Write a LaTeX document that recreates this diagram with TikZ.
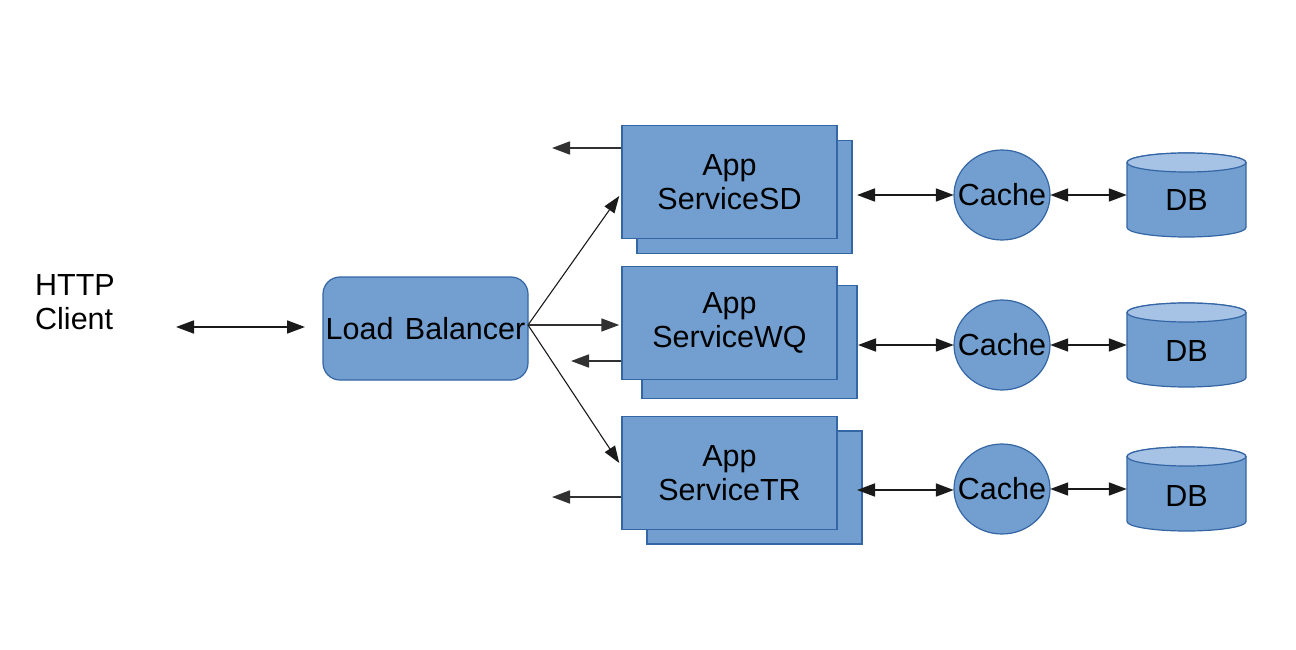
\documentclass[tikz,border=0pt]{standalone}
\usepackage{fontspec}
\setmainfont{Liberation Sans}
\usetikzlibrary{arrows.meta,shapes.geometric,calc}
\definecolor{boxfill}{HTML}{729FCF}
\definecolor{boxline}{HTML}{3465A4}
\definecolor{dbtop}{HTML}{A6C2E5}
\definecolor{lnk}{HTML}{1A1A1A}
\begin{document}
\begin{tikzpicture}[x=1pt,y=1pt,
  lbl/.style={font=\fontsize{30.5}{34}\selectfont, text=black},
  svcback/.style={draw=boxline, fill=boxfill, line width=1.5pt,
    minimum width=215pt, minimum height=113pt, inner sep=0pt},
  svcfront/.style={svcback, align=center, lbl},
  lbbox/.style={draw=boxline, fill=boxfill, line width=1.2pt, rounded corners=17pt,
    minimum width=205pt, minimum height=103pt, inner sep=0pt, lbl},
  cachenode/.style={minimum width=96pt, minimum height=90pt, inner sep=0pt, lbl},
  cacheshape/.style={draw=boxline, fill=boxfill, line width=1.2pt},
  dbtext/.style={minimum width=119pt, inner sep=0pt, lbl},
  twoway/.style={line width=1.7pt, draw=lnk, {Triangle[length=18pt,width=13pt]}-{Triangle[length=18pt,width=13pt]}},
  oneway/.style={line width=1.7pt, draw=lnk!90, -{Triangle[length=18pt,width=13pt]}},
  diagway/.style={line width=1.1pt, draw=lnk, -{Triangle[length=17pt,width=12pt]}}
]
\useasboundingbox (0,0) rectangle (1296,-650);

% HTTP client
\node[lbl, align=left, anchor=west, inner sep=0pt] (http) at (35,-302) {HTTP\\Client};
\coordinate (ca) at (176,-327);
\coordinate (cb) at (305,-327);
\draw[twoway] (ca) -- (cb);

% Load balancer
\node[lbbox] (lb) at (425.5,-328.5) {Load\hspace{3pt} Balancer};
\coordinate (lbo) at (528,-325);

% App services
\node[svcback] (sdb) at (744.5,-197) {};
\node[svcfront] (sd) at (729.5,-182) {App\\ServiceSD};
\node[svcback] (wqb) at (749.5,-342) {};
\node[svcfront] (wq) at (729.5,-323) {App\\ServiceWQ};
\node[svcback] (trb) at (754.5,-487.5) {};
\node[svcfront] (tr) at (729.5,-473) {App\\ServiceTR};

% LB to services
\draw[diagway] (lbo) -- ([yshift=-14pt,xshift=-2pt]sd.west);
\draw[oneway] (lbo) -- ([xshift=-2pt]lbo -| wq.west);
\draw[diagway] (lbo) -- ([yshift=10pt,xshift=-2pt]tr.west);

% left outgoing arrows
\coordinate (l1) at (552,-148);
\coordinate (l2) at (571,-361);
\coordinate (l3) at (552,-497);
\draw[oneway] (sd.west |- l1) -- (l1);
\draw[oneway] (wq.west |- l2) -- (l2);
\draw[oneway] (tr.west |- l3) -- (l3);

% DB cylinders
\foreach \cy in {195,345,489}{
  \filldraw[fill=boxfill, draw=boxline, line width=1.2pt]
    (1127,-\cy+32.5) -- (1127,-\cy-32.5)
    arc[start angle=180, end angle=360, x radius=59.5, y radius=9.5]
    -- (1246,-\cy+32.5)
    arc[start angle=0, end angle=180, x radius=59.5, y radius=9.5] -- cycle;
  \filldraw[fill=dbtop, draw=boxline, line width=1.2pt]
    (1186.5,-\cy+32.5) ellipse[x radius=59.5, y radius=9.5];
}

% caches
\foreach \cy in {195,345,489}{
  \filldraw[cacheshape] (1002,-\cy) ellipse[x radius=48, y radius=45];
}
\node[cachenode] (c1) at (1002,-195) {Cache};
\node[cachenode] (c2) at (1002,-345) {Cache};
\node[cachenode] (c3) at (1002,-489) {Cache};

% DB labels
\node[dbtext] (d1) at (1186.5,-200) {DB};
\node[dbtext] (d2) at (1186.5,-351) {DB};
\node[dbtext] (d3) at (1186.5,-496) {DB};

% service to cache
\coordinate (s1) at (857,-195);
\coordinate (s2) at (858,-345);
\coordinate (s3) at (857,-490);
\draw[twoway] (s1) -- (s1 -| c1.west);
\draw[twoway] (s2) -- (s2 -| c2.west);
\draw[twoway] (s3) -- (s3 -| c3.west);

% cache to DB
\draw[twoway] (c1.east) -- (c1.east -| d1.west);
\draw[twoway] (c2.east) -- (c2.east -| d2.west);
\draw[twoway] (c3.east) -- (c3.east -| d3.west);
\end{tikzpicture}
\end{document}
